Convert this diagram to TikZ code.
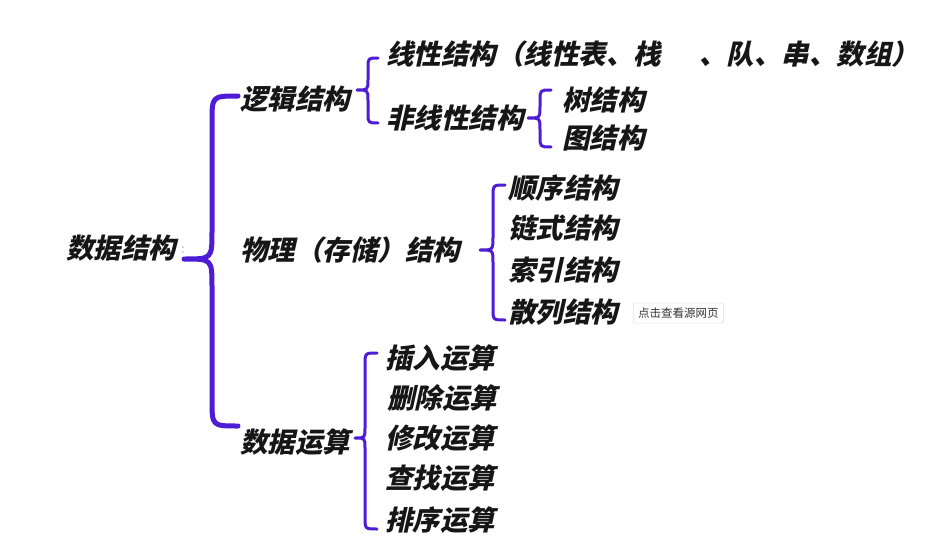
\documentclass[tikz,border=0pt]{standalone}
\usepackage{fontspec}
\newfontfamily\cjk[FakeSlant=0.22,BoldFeatures={FakeSlant=0.22}]{Noto Sans CJK SC}
\newfontfamily\cjkplain{Noto Sans CJK SC}
\definecolor{bracecol}{RGB}{78,28,212}
\definecolor{inkcol}{RGB}{22,22,22}
% curly brace: #1 style, #2 tip x, #3 spine x, #4 end x, #5 top y, #6 tip y, #7 bottom y
\newcommand\drawbrace[7]{%
  \draw[#1] (#4,#5) .. controls (#3,#5) .. ({#3},{#5+#4-#3})
    -- ({#3},{#6-#3+#2}) .. controls (#3,#6) .. (#2,#6)
    .. controls (#3,#6) .. ({#3},{#6+#3-#2})
    -- ({#3},{#7-#4+#3}) .. controls (#3,#7) .. (#4,#7);}
\begin{document}
\begin{tikzpicture}[x=1pt,y=-1pt,
  item/.style={font=\cjk\bfseries\fontsize{27.5}{30}\selectfont,
    anchor=west, inner sep=0pt, text=inkcol},
  bigbrace/.style={draw=bracecol, line width=5pt, line cap=round, line join=round},
  smallbrace/.style={draw=bracecol, line width=3pt, line cap=round, line join=round},
  tip/.style={draw=black!22, fill=white, rounded corners=1.5pt, inner xsep=5pt,
    minimum height=20pt, font=\cjkplain\fontsize{11.5}{13}\selectfont, text=black!80}]
\useasboundingbox[fill=white] (0,0) rectangle (943,546);

% root and its faint colon
\node[item] (root) at (66,248) {数据结构};
\node[font=\cjkplain\fontsize{13}{13}\selectfont, text=black!30, inner sep=0pt,
  anchor=west] (colon) at (181,250) {:};

% level 1
\node[item] (logic) at (240,99) {逻辑结构};
\node[item] (phys) at (240,250) {物理（存储）结构};
\node[item] (ops) at (240,442) {数据运算};

% logical structure
\node[item] (linear) at (386,54) {线性结构（线性表、栈\hspace{38pt}、队、串、数组）};
\node[item] (nonlin) at (386,118) {非线性结构};
\node[item] (tree) at (562,100) {树结构};
\node[item] (graph) at (562,138) {图结构};

% physical (storage) structure
\node[item] (seq) at (508,188) {顺序结构};
\node[item] (chain) at (508,228) {链式结构};
\node[item] (index) at (508,270) {索引结构};
\node[item] (hash) at (508,312) {散列结构};
\node[tip, anchor=west] (hint) at (633,313) {点击查看源网页};

% data operations
\node[item] (ins) at (385,358) {插入运算};
\node[item] (del) at (387,398) {删除运算};
\node[item] (mod) at (385,438) {修改运算};
\node[item] (find) at (385,478) {查找运算};
\node[item] (sort) at (385,520) {排序运算};

% braces
\drawbrace{bigbrace}{184}{212}{238}{96}{259}{426}
\drawbrace{smallbrace}{357}{368}{378}{58}{90}{123}
\drawbrace{smallbrace}{528}{540}{551}{90}{118}{147}
\drawbrace{smallbrace}{480}{493}{505}{185}{250}{320}
\drawbrace{smallbrace}{355}{365}{377}{353}{438}{529}
\end{tikzpicture}
\end{document}
